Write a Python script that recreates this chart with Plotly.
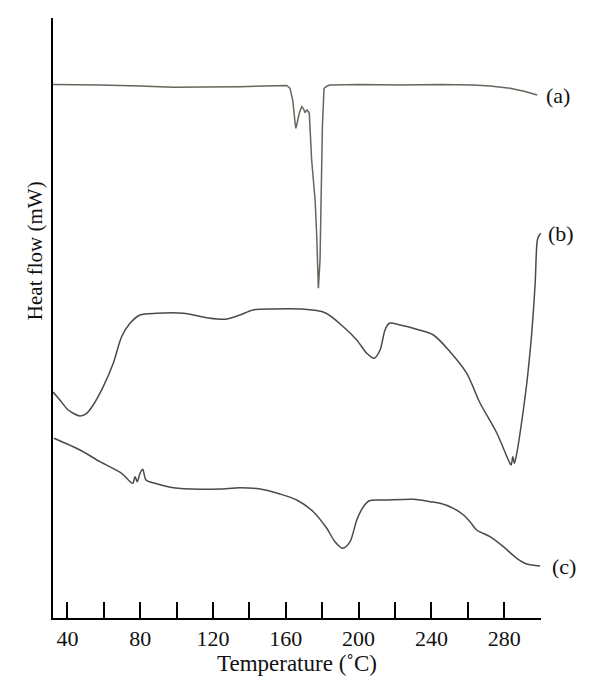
import plotly.graph_objects as go

# ---- data (temperature in °C, heat flow in arbitrary offset units) ----
temp_a = [32.1, 46.9, 57.9, 79.9, 98.0, 134.8, 156.8, 160.5, 162.3, 163.8, 165.1, 165.5, 166.0,
          167.4, 168.8, 169.6, 170.6, 171.1, 171.8, 172.9, 174.2, 176.1, 177.0, 177.9, 178.8,
          179.4, 180.1, 181.0, 182.7, 184.3, 200.8, 222.8, 244.8, 262.9, 272.2, 283.2, 291.5, 298.1]
flow_a = [5.335, 5.335, 5.33, 5.32, 5.307, 5.313, 5.32, 5.325, 5.297, 5.18, 4.95, 4.897, 4.93,
          5.05, 5.113, 5.097, 5.053, 5.073, 5.08, 5.047, 4.58, 4.18, 3.813, 3.297, 3.58,
          4.25, 4.913, 5.297, 5.32, 5.33, 5.335, 5.33, 5.335, 5.33, 5.32, 5.297, 5.265, 5.23]

temp_b = [32.1, 35.9, 40.5, 46.9, 50.6, 54.2, 59.7, 65.2, 69.8, 74.4, 79.9, 89.1, 103.7, 116.6,
          126.6, 134.8, 142.0, 153.0, 167.8, 181.6, 191.6, 199.0, 204.5, 208.5, 211.8, 214.5,
          216.9, 222.8, 231.9, 241.1, 250.2, 259.4, 266.7, 275.9, 282.3, 283.8, 284.7, 285.6,
          286.9, 288.7, 292.4, 295.1, 297.0, 298.2, 299.3, 300.2]
flow_b = [2.26, 2.18, 2.08, 2.02, 2.047, 2.13, 2.313, 2.547, 2.813, 2.947, 3.03, 3.047, 3.047, 3.003,
          2.987, 3.03, 3.08, 3.09, 3.09, 3.053, 2.913, 2.78, 2.647, 2.597, 2.68, 2.88,
          2.947, 2.93, 2.887, 2.83, 2.663, 2.447, 2.15, 1.85, 1.58, 1.53, 1.613, 1.547,
          1.647, 1.85, 2.35, 2.85, 3.35, 3.78, 3.83, 3.847]

temp_c = [32.6, 46.9, 57.9, 69.8, 73.5, 75.9, 77.2, 78.4, 79.9, 81.4, 83.2, 88.1, 98.2, 112.9,
          123.9, 134.8, 145.8, 156.8, 166.0, 175.1, 182.5, 187.0, 191.3, 195.3, 199.0, 202.6,
          205.9, 215.5, 230.1, 239.3, 244.8, 252.1, 257.6, 261.2, 264.9, 272.2, 279.5, 286.9,
          292.4, 299.7]
flow_c = [1.797, 1.68, 1.563, 1.447, 1.38, 1.347, 1.413, 1.363, 1.447, 1.487, 1.38, 1.347, 1.303,
          1.287, 1.29, 1.303, 1.29, 1.24, 1.18, 1.063, 0.897, 0.763, 0.697, 0.763, 0.98, 1.113,
          1.173, 1.18, 1.187, 1.163, 1.147, 1.097, 1.03, 0.963, 0.88, 0.813, 0.713, 0.597,
          0.54, 0.52]

curve_labels = ["(a)", "(b)", "(c)"]
tick_values = [40, 60, 80, 100, 120, 140, 160, 180, 200, 220, 240, 260, 280, 300]
tick_labels = ["40", "", "80", "", "120", "", "160", "", "200", "", "240", "", "280", ""]

FONT = "Liberation Serif"

fig = go.Figure()
fig.add_trace(go.Scatter(x=temp_a, y=flow_a, mode="lines",
                         line=dict(color="#66665c", width=1.5), showlegend=False))
fig.add_trace(go.Scatter(x=temp_b, y=flow_b, mode="lines",
                         line=dict(color="#4a4a4a", width=1.5, shape="spline", smoothing=0.8),
                         showlegend=False))
fig.add_trace(go.Scatter(x=temp_c, y=flow_c, mode="lines",
                         line=dict(color="#4a4a4a", width=1.5, shape="spline", smoothing=0.8),
                         showlegend=False))

label_pos = [(1.035, flow_a[-1]), (1.042, flow_b[-1]), (1.047, flow_c[-1])]
for txt, (px, py) in zip(curve_labels, label_pos):
    fig.add_annotation(x=px, y=py, xref="paper", yref="y", text=txt, showarrow=False,
                       xanchor="center", yanchor="middle",
                       font=dict(family=FONT, size=22, color="#111111"))

fig.add_annotation(x=-0.037, y=0.613, xref="paper", yref="paper", text="Heat flow (mW)",
                   textangle=-90, showarrow=False, xanchor="center", yanchor="middle",
                   font=dict(family=FONT, size=21, color="#111111"))
fig.add_annotation(x=0.5, y=-0.075, xref="paper", yref="paper", text="Temperature (˚C)",
                   showarrow=False, xanchor="center", yanchor="middle",
                   font=dict(family=FONT, size=23, color="#111111"))

fig.update_layout(
    width=600, height=698,
    margin=dict(l=53, r=59, t=18, b=80),
    paper_bgcolor="white", plot_bgcolor="white",
    hovermode=False,
    xaxis=dict(range=[32.1, 300.2], showgrid=False, zeroline=False,
               showline=True, linecolor="black", linewidth=2,
               ticks="inside", ticklen=16, tickwidth=1.5, tickcolor="black",
               tickmode="array", tickvals=tick_values, ticktext=tick_labels,
               tickfont=dict(family=FONT, size=22, color="#111111")),
    yaxis=dict(range=[0, 6], showgrid=False, zeroline=False,
               showline=True, linecolor="black", linewidth=2,
               ticks="", showticklabels=False),
)

fig.write_html("out.html", config={"displayModeBar": False},
               post_script="document.body.style.margin='0';document.body.style.overflow='hidden';")
